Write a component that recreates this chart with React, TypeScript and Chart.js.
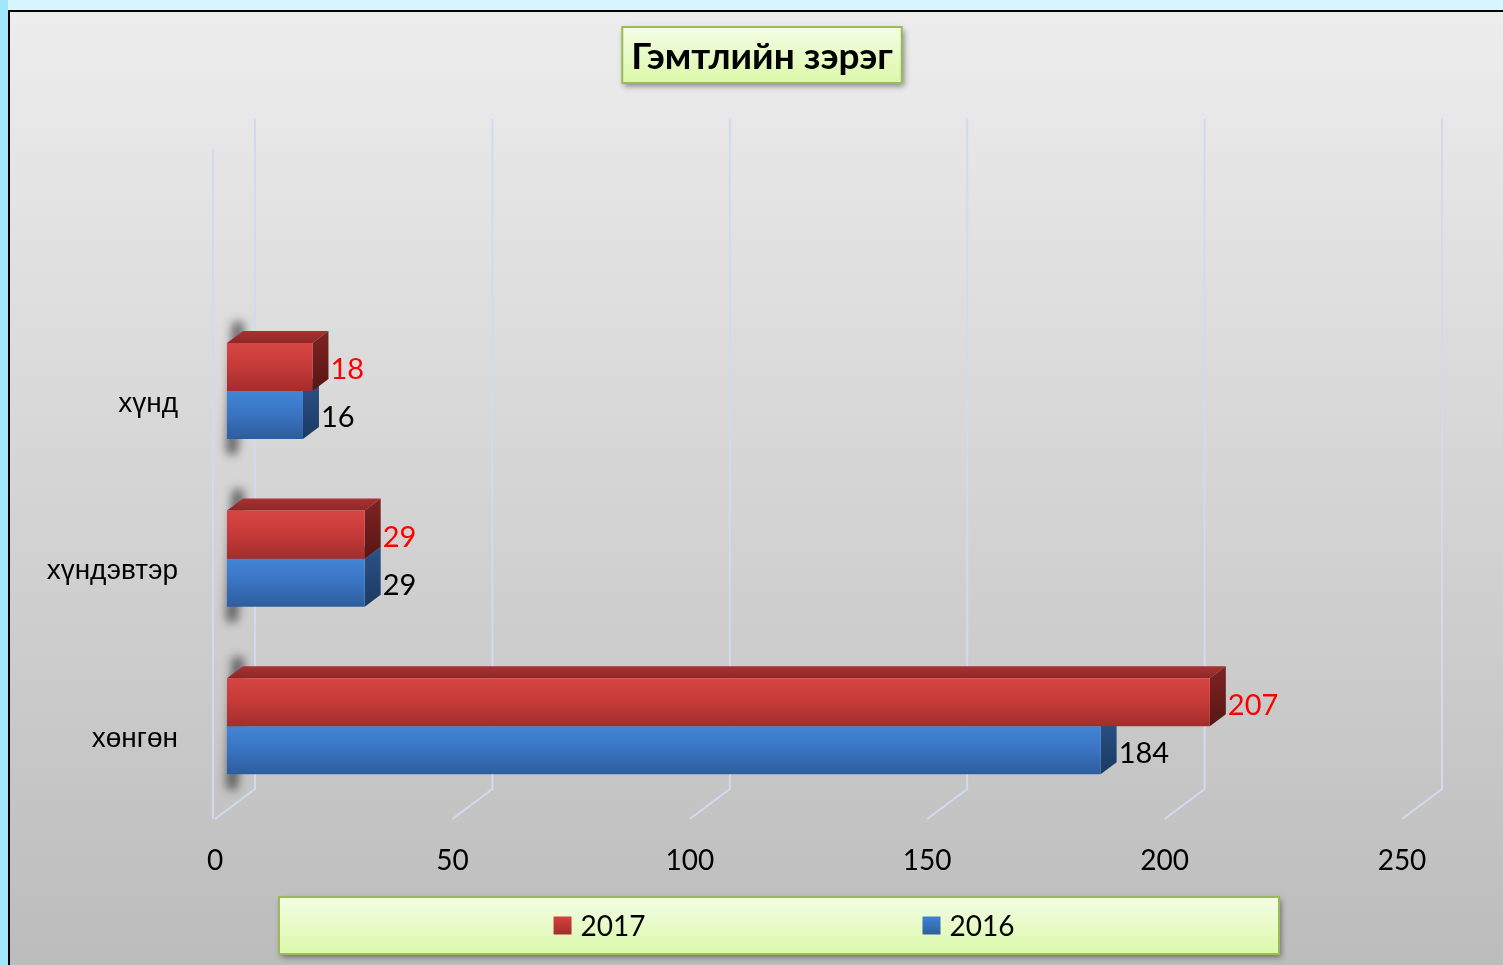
import React, { useEffect, useRef } from 'react';
import { Chart, registerables } from 'chart.js';

Chart.register(...registerables);

// ---- data ----
const categories = ['хүнд', 'хүндэвтэр', 'хөнгөн'];
const seriesLabels = ['2017', '2016'];
const values2017 = [18, 29, 207];
const values2016 = [16, 29, 184];
const xTicks = [0, 50, 100, 150, 200, 250];
const titleText = 'Гэмтлийн зэрэг';

// ---- styling / 3D geometry ----
const W = 1503;
const H = 965;
const DEPTH_X = 40;
const DEPTH_Y = 30;
const BAR_SHIFT_X = 12;
const BAR_SHIFT_Y = 9;
const BAR_DX = 16;
const BAR_DY = 12;
const TITLE_PAD_TOP = 35;
const TITLE_SIZE = 37;
const TITLE_CENTER_X = 762;
const NUM_FONT = 'Lato, "Open Sans", "Noto Sans", sans-serif';
const CAT_FONT = '"Liberation Sans", Arial, "DejaVu Sans", sans-serif';

const palettes = [
  {
    front: ['#d64543', '#c83b39', '#a22d2c'],
    top: ['#a83231', '#8e2726'],
    side: ['#7f2322', '#581615'],
    legend: ['#d3413f', '#a22d2c'],
    label: '#ff0000',
  },
  {
    front: ['#4285d6', '#3a75c5', '#2d5d9d'],
    top: ['#33649f', '#28528a'],
    side: ['#2b548a', '#1c3961'],
    legend: ['#4083d4', '#2d5e9e'],
    label: '#000000',
  },
];

function greenBox(ctx: CanvasRenderingContext2D, x: number, y: number, w: number, h: number) {
  ctx.save();
  ctx.shadowColor = 'rgba(0,0,0,0.45)';
  ctx.shadowBlur = 6;
  ctx.shadowOffsetX = 2;
  ctx.shadowOffsetY = 3;
  const g = ctx.createLinearGradient(0, y, 0, y + h);
  g.addColorStop(0, '#f4fde6');
  g.addColorStop(1, '#dbf8a8');
  ctx.fillStyle = g;
  ctx.fillRect(x, y, w, h);
  ctx.restore();
  ctx.save();
  ctx.strokeStyle = '#9bbb59';
  ctx.lineWidth = 2;
  ctx.strokeRect(x, y, w, h);
  ctx.restore();
}

const scenePlugin = {
  id: 'scene3d',
  afterLayout(chart: any) {
    const t = chart.titleBlock;
    if (t) {
      const shift = TITLE_CENTER_X - (t.left + t.right) / 2;
      t.left += shift;
      t.right += shift;
    }
  },
  beforeDraw(chart: any) {
    const { ctx, chartArea: ca, scales } = chart;
    const cw = chart.width;
    const ch = chart.height;
    const xs = scales.x;
    ctx.save();
    // outer frame
    ctx.fillStyle = '#d6f5fe';
    ctx.fillRect(0, 0, cw, ch);
    ctx.fillStyle = '#a2e6fb';
    ctx.fillRect(0, 0, 8, ch);
    // panel
    const g = ctx.createLinearGradient(0, 11, 0, ch);
    g.addColorStop(0, '#ededed');
    g.addColorStop(1, '#bcbcbc');
    ctx.fillStyle = g;
    ctx.fillRect(9, 11, cw - 9, ch - 11);
    ctx.fillStyle = '#000';
    ctx.fillRect(8, 10, cw - 8, 2);
    ctx.fillRect(8, 10, 2, ch - 10);

    // walls / grid
    const catH = ca.height / categories.length;
    const frontTop = ca.top - catH;
    const backTop = frontTop - DEPTH_Y;
    const backBottom = ca.bottom - DEPTH_Y;
    ctx.strokeStyle = '#cfdcef';
    ctx.lineWidth = 2;
    for (const v of xTicks) {
      const xf = xs.getPixelForValue(v);
      ctx.beginPath();
      ctx.moveTo(xf + DEPTH_X, backTop);
      ctx.lineTo(xf + DEPTH_X, backBottom);
      ctx.lineTo(xf, ca.bottom);
      ctx.stroke();
    }
    const x0 = xs.getPixelForValue(0) - 2;
    ctx.beginPath();
    ctx.moveTo(x0, frontTop);
    ctx.lineTo(x0, ca.bottom);
    ctx.stroke();

    // title box
    const t = chart.titleBlock;
    if (t) {
      ctx.font = `bold ${TITLE_SIZE}px ${NUM_FONT}`;
      const tw = ctx.measureText(titleText).width;
      const cx = (t.left + t.right) / 2;
      greenBox(ctx, cx - tw / 2 - 9, 27, tw + 18, 56);
    }
    ctx.restore();
  },
  beforeDatasetsDraw(chart: any) {
    const ctx = chart.ctx;
    ctx.save();
    ctx.translate(BAR_SHIFT_X, -BAR_SHIFT_Y);
    const metas = chart.data.datasets.map((_: any, i: number) => chart.getDatasetMeta(i));
    // shadows on the left wall
    for (let j = 0; j < categories.length; j++) {
      const r = metas[0].data[j];
      const b = metas[metas.length - 1].data[j];
      if (!r || !b) continue;
      const top = r.y - r.height / 2;
      const bot = b.y + b.height / 2;
      ctx.save();
      ctx.filter = 'blur(5px)';
      ctx.strokeStyle = 'rgba(25,25,25,0.6)';
      ctx.lineWidth = 12;
      ctx.lineCap = 'round';
      ctx.beginPath();
      ctx.moveTo(r.base + 11, top - 16);
      ctx.lineTo(r.base + 5, bot + 10);
      ctx.stroke();
      ctx.restore();
    }
    for (let d = metas.length - 1; d >= 0; d--) {
      const p = palettes[d];
      metas[d].data.forEach((el: any) => {
        const top = el.y - el.height / 2;
        const bot = el.y + el.height / 2;
        const left = el.base;
        const right = el.x;
        // top face
        const gt = ctx.createLinearGradient(0, top - BAR_DY, 0, top);
        gt.addColorStop(0, p.top[0]);
        gt.addColorStop(1, p.top[1]);
        ctx.fillStyle = gt;
        ctx.beginPath();
        ctx.moveTo(left, top);
        ctx.lineTo(left + BAR_DX, top - BAR_DY);
        ctx.lineTo(right + BAR_DX, top - BAR_DY);
        ctx.lineTo(right, top);
        ctx.closePath();
        ctx.fill();
        // side face
        const gs = ctx.createLinearGradient(0, top - BAR_DY, 0, bot);
        gs.addColorStop(0, p.side[0]);
        gs.addColorStop(1, p.side[1]);
        ctx.fillStyle = gs;
        ctx.beginPath();
        ctx.moveTo(right, top);
        ctx.lineTo(right + BAR_DX, top - BAR_DY);
        ctx.lineTo(right + BAR_DX, bot - BAR_DY);
        ctx.lineTo(right, bot);
        ctx.closePath();
        ctx.fill();
        // front face gradient
        const gf = ctx.createLinearGradient(0, top, 0, bot);
        gf.addColorStop(0, p.front[0]);
        gf.addColorStop(0.45, p.front[1]);
        gf.addColorStop(1, p.front[2]);
        if (el.options && !Object.isFrozen(el.options)) el.options.backgroundColor = gf;
      });
    }
  },
  afterDatasetsDraw(chart: any) {
    const ctx = chart.ctx;
    ctx.save();
    ctx.font = `29px ${NUM_FONT}`;
    ctx.textAlign = 'left';
    ctx.textBaseline = 'middle';
    chart.data.datasets.forEach((ds: any, d: number) => {
      const meta = chart.getDatasetMeta(d);
      meta.data.forEach((el: any, j: number) => {
        ctx.fillStyle = palettes[d].label;
        ctx.fillText(String(ds.data[j]), el.x + BAR_DX + 2, el.y + 3);
      });
    });
    ctx.restore();
    ctx.restore(); // matches translate in beforeDatasetsDraw
  },
  afterDraw(chart: any) {
    const ctx = chart.ctx;
    // legend
    const bx = 279;
    const by = 897;
    const bw = 1000;
    const bh = 57;
    greenBox(ctx, bx, by, bw, bh);
    ctx.save();
    ctx.font = `28px ${NUM_FONT}`;
    ctx.textBaseline = 'middle';
    ctx.textAlign = 'left';
    const sq = 18;
    const gap = 9;
    const between = 277;
    const widths = seriesLabels.map((s) => sq + gap + ctx.measureText(s).width);
    const total = widths.reduce((a, b) => a + b, 0) + between * (widths.length - 1);
    let x = bx + bw / 2 + 5 - total / 2;
    const cy = by + bh / 2;
    seriesLabels.forEach((s, i) => {
      const p = palettes[i];
      const g = ctx.createLinearGradient(0, cy - sq / 2, 0, cy + sq / 2);
      g.addColorStop(0, p.legend[0]);
      g.addColorStop(1, p.legend[1]);
      ctx.fillStyle = g;
      ctx.fillRect(x, cy - sq / 2, sq, sq);
      ctx.fillStyle = '#000';
      ctx.fillText(s, x + sq + gap, cy + 1);
      x += widths[i] + between;
    });
    ctx.restore();
  },
};

export default function App() {
  const ref = useRef<HTMLCanvasElement | null>(null);
  useEffect(() => {
    if (!ref.current) return;
    const chart = new Chart(ref.current, {
      type: 'bar',
      data: {
        labels: categories,
        datasets: [
          {
            label: seriesLabels[0],
            data: values2017,
            backgroundColor: () => palettes[0].front[1],
            borderWidth: 0,
          },
          {
            label: seriesLabels[1],
            data: values2016,
            backgroundColor: () => palettes[1].front[1],
            borderWidth: 0,
          },
        ],
      },
      options: {
        indexAxis: 'y',
        animation: false,
        responsive: false,
        maintainAspectRatio: false,
        layout: { padding: { left: 15, right: 101, top: 0, bottom: 0 } },
        datasets: { bar: { categoryPercentage: 0.573, barPercentage: 1 } },
        plugins: {
          legend: { display: false },
          tooltip: { enabled: false },
          title: {
            display: true,
            text: titleText,
            color: '#000',
            font: { family: NUM_FONT, size: TITLE_SIZE, weight: 'bold', lineHeight: 1.2 },
            padding: { top: TITLE_PAD_TOP, bottom: 316.25 - TITLE_PAD_TOP - TITLE_SIZE * 1.2 },
          },
        },
        scales: {
          x: {
            type: 'linear',
            position: 'bottom',
            min: 0,
            max: 250,
            grid: { display: false },
            border: { display: false },
            afterBuildTicks: (s: any) => {
              s.ticks = xTicks.map((v) => ({ value: v }));
            },
            ticks: { padding: 17, color: '#000', font: { family: NUM_FONT, size: 28 } },
            afterFit: (s: any) => {
              s.height = 146;
            },
          },
          y: {
            type: 'category',
            grid: { display: false },
            border: { display: false },
            ticks: {
              padding: 29,
              labelOffset: 4,
              color: '#000',
              font: { family: CAT_FONT, size: 28 },
            },
            afterFit: (s: any) => {
              s.width = 200;
            },
          },
        },
      } as any,
      plugins: [scenePlugin],
    });
    return () => chart.destroy();
  }, []);
  return (
    <div style={{ position: 'fixed', left: 0, top: 0, width: W, height: H, overflow: 'hidden' }}>
      <canvas ref={ref} width={W} height={H} style={{ width: W, height: H, display: 'block' }} />
    </div>
  );
}
